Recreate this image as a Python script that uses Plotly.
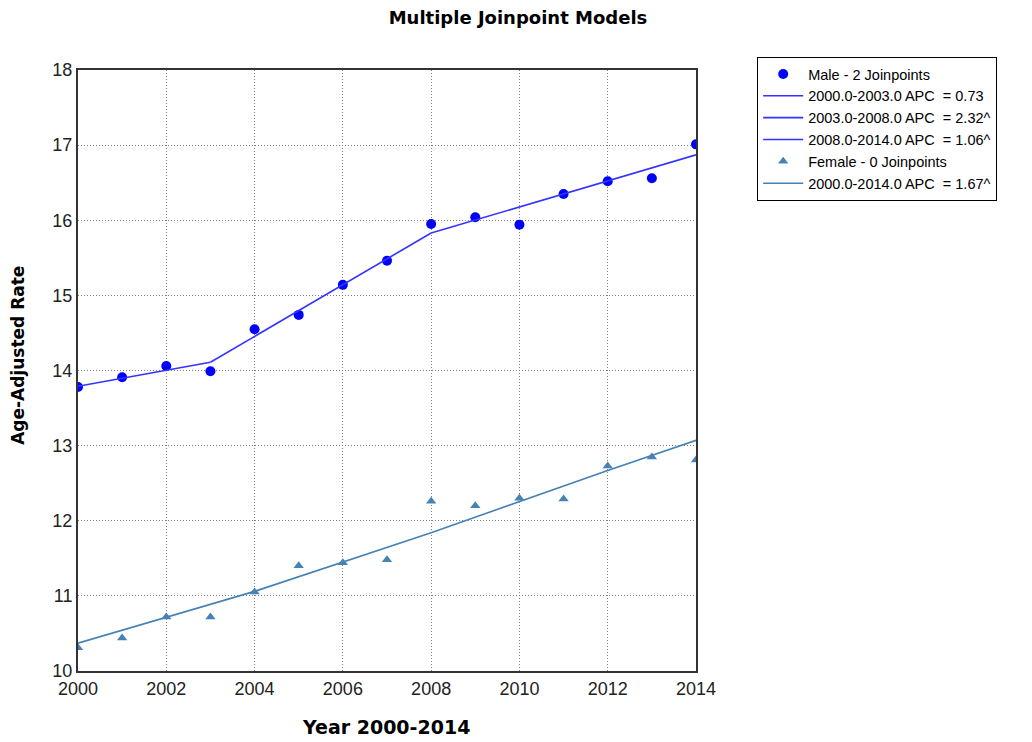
import plotly.graph_objects as go

years = list(range(2000, 2015))
male_obs = [13.78, 13.91, 14.06, 13.99, 14.55, 14.74, 15.14, 15.46, 15.95, 16.04, 15.94, 16.35, 16.52, 16.56, 17.01]
female_obs = [10.31, 10.44, 10.72, 10.72, 11.05, 11.40, 11.44, 11.48, 12.26, 12.20, 12.30, 12.29, 12.73, 12.85, 12.81]

male_seg_years = [[2000, 2003], [2003, 2008], [2008, 2014]]
male_seg_fit = [[13.79, 14.11], [14.11, 15.83], [15.83, 16.87]]
male_seg_names = ["2000.0-2003.0 APC &nbsp;= 0.73", "2003.0-2008.0 APC &nbsp;= 2.32^", "2008.0-2014.0 APC &nbsp;= 1.06^"]

female_fit_years = [2000, 2004, 2008, 2012, 2014]
female_fit = [10.37, 11.06, 11.84, 12.67, 13.07]
female_fit_name = "2000.0-2014.0 APC &nbsp;= 1.67^"

x_ticks = list(range(2000, 2015, 2))
y_ticks = list(range(10, 19))

MALE = "#0000FF"
MALE_LINE = "#3333FF"
FEMALE = "#4682B4"

# the page body adds an 8px margin; the figure is sized to fit the window
W, H = 1024, 734

fig = go.Figure()
fig.add_trace(go.Scatter(x=years, y=male_obs, mode="markers", name="Male - 2 Joinpoints",
                         marker=dict(symbol="circle", size=10, color=MALE)))
for xs, ys, nm in zip(male_seg_years, male_seg_fit, male_seg_names):
    fig.add_trace(go.Scatter(x=xs, y=ys, mode="lines", name=nm,
                             line=dict(color=MALE_LINE, width=1.6)))
fig.add_trace(go.Scatter(x=years, y=female_obs, mode="markers", name="Female - 0 Joinpoints",
                         marker=dict(symbol="triangle-up", size=9, color=FEMALE)))
fig.add_trace(go.Scatter(x=female_fit_years, y=female_fit, mode="lines", name=female_fit_name,
                         line=dict(color=FEMALE, width=1.6)))

fig.update_layout(
    width=W, height=H,
    paper_bgcolor="white", plot_bgcolor="white",
    margin=dict(l=70, r=336, t=62, b=71),
    title=dict(text="<b>Multiple Joinpoint Models</b>", x=510/W, xanchor="center",
               y=1 - 10/H, yanchor="middle",
               font=dict(family="DejaVu Sans", size=18, color="black")),
    font=dict(family="Liberation Sans, Arial", color="black"),
    showlegend=True,
    legend=dict(x=1.099, xanchor="left", y=1.0216, yanchor="top",
                bordercolor="black", borderwidth=1, bgcolor="white",
                font=dict(family="Liberation Sans, Arial", size=14.5, color="black"),
                itemwidth=40, tracegroupgap=0),
    xaxis=dict(range=[2000, 2014], tickvals=x_ticks, ticktext=[str(v) for v in x_ticks],
               showgrid=True, gridcolor="#808080", griddash="1px,2px", gridwidth=1,
               showline=True, linecolor="#333333", linewidth=2, mirror=True,
               ticks="", tickfont=dict(size=18, color="#222222"),
               automargin=False, zeroline=False),
    yaxis=dict(range=[10, 18], tickvals=y_ticks, ticktext=[str(v) for v in y_ticks],
               showgrid=True, gridcolor="#808080", griddash="1px,2px", gridwidth=1,
               showline=True, linecolor="#333333", linewidth=2, mirror=True,
               ticks="", tickfont=dict(size=18, color="#222222"),
               automargin=False, zeroline=False),
    annotations=[
        dict(text="<b>Year 2000-2014</b>", xref="paper", yref="paper", x=0.498, y=-0.0932,
             xanchor="center", yanchor="middle", showarrow=False,
             font=dict(family="DejaVu Sans", size=19, color="black")),
        dict(text="<b>Age-Adjusted Rate</b>", xref="paper", yref="paper", x=-0.0971, y=0.526,
             xanchor="center", yanchor="middle", showarrow=False, textangle=-90,
             font=dict(family="DejaVu Sans", size=17, color="black")),
    ],
)

fig.write_html("out.html")
